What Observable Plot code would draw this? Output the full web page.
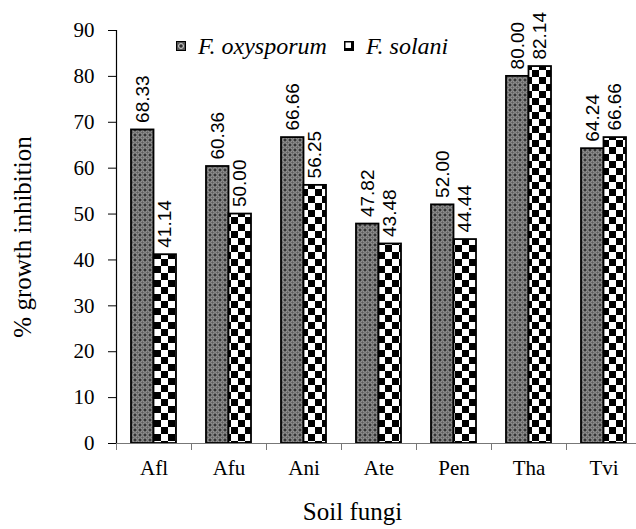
<!DOCTYPE html>
<html><head><meta charset="utf-8">
<script src="https://cdn.jsdelivr.net/npm/d3@7"></script>
<script src="https://cdn.jsdelivr.net/npm/@observablehq/plot@0.6"></script>
<style>
body{margin:0;background:#fff;}
#wrap{position:relative;width:636px;height:529px;overflow:hidden;}
.lg{position:absolute;font:italic 24px "Liberation Serif",serif;white-space:nowrap;line-height:1;}
.sw{position:absolute;}
</style></head><body><div id="wrap"></div>
<script>
const fungi = ["Afl","Afu","Ani","Ate","Pen","Tha","Tvi"];
const series = ["F. oxysporum","F. solani"];
const oxysporum = [68.33,60.36,66.66,47.82,52.00,80.00,64.24];
const solani = [41.14,50.00,56.25,43.48,44.44,82.14,66.66];
const yTicks = [0,10,20,30,40,50,60,70,80,90];

const rows = fungi.flatMap((f,i)=>[
  {fungus:f,i,s:0,series:series[0],value:oxysporum[i]},
  {fungus:f,i,s:1,series:series[1],value:solani[i]}
]);
const boundaries = d3.range(fungi.length+1);
const centers = fungi.map((f,i)=>i+0.5);
const serif = "Liberation Serif";

const plot = Plot.plot({
  width:636, height:529,
  marginLeft:116, marginTop:30, marginBottom:86, marginRight:0,
  style:{fontFamily:serif, fontSize:"21px", background:"white", color:"black"},
  x:{domain:[0,fungi.length], range:[116,641]},
  y:{domain:[0,90], range:[443,30]},
  marks:[
    Plot.rectY(rows.filter(d=>d.s===0),{x1:d=>d.i+0.2,x2:d=>d.i+0.5,y:"value",fill:"url(#pOxy)",stroke:"black",strokeWidth:1.8}),
    Plot.rectY(rows.filter(d=>d.s===1),{x1:d=>d.i+0.5,x2:d=>d.i+0.8,y:"value",fill:"url(#pSol)",stroke:"black",strokeWidth:1.8}),
    Plot.text(rows,{x:d=>d.i+0.35+0.3*d.s,y:"value",text:d=>d.value.toFixed(2),rotate:-90,textAnchor:"start",dy:-7,fontFamily:"Liberation Sans",fontSize:19}),
    Plot.ruleY([0],{stroke:"#777",strokeWidth:1.2}),
    Plot.ruleX([0],{stroke:"black",strokeWidth:1.2}),
    Plot.axisY({ticks:yTicks,tickSize:8,tickPadding:14,label:null,stroke:"black",fontFamily:serif,fontSize:21}),
    Plot.axisX({ticks:boundaries,tickFormat:()=>"",tickSize:7,stroke:"#777",label:null}),
    Plot.axisX({ticks:centers,tickFormat:d=>fungi[Math.floor(d)],tickSize:0,tickPadding:17,label:null,fontFamily:serif,fontSize:21}),
    Plot.text(["% growth inhibition"],{frameAnchor:"left",textAnchor:"middle",rotate:-90,dx:-94,fontFamily:serif,fontSize:25}),
    Plot.text(["Soil fungi"],{frameAnchor:"bottom",lineAnchor:"middle",dy:68,dx:-24,fontFamily:serif,fontSize:25})
  ]
});

const svg = d3.select(plot);
svg.selectAll("text").filter(function(){ return /^\d+$/.test(this.textContent); })
  .style("font-family", '"Liberation Serif", serif').style("font-variant", "normal");
const defs = svg.insert("defs",":first-child");
const p1 = defs.append("pattern").attr("id","pOxy").attr("width",5).attr("height",5).attr("patternUnits","userSpaceOnUse");
p1.append("rect").attr("width",5).attr("height",5).attr("fill","#5e5e5e");
p1.append("circle").attr("cx",2.5).attr("cy",2.5).attr("r",1.7).attr("fill","none").attr("stroke","#b8b8b8").attr("stroke-width",0.7);
p1.append("circle").attr("cx",0).attr("cy",0).attr("r",0.8).attr("fill","#000");
p1.append("circle").attr("cx",5).attr("cy",0).attr("r",0.8).attr("fill","#000");
p1.append("circle").attr("cx",0).attr("cy",5).attr("r",0.8).attr("fill","#000");
p1.append("circle").attr("cx",5).attr("cy",5).attr("r",0.8).attr("fill","#000");
const p2 = defs.append("pattern").attr("id","pSol").attr("width",14).attr("height",14).attr("patternUnits","userSpaceOnUse");
p2.append("rect").attr("width",14).attr("height",14).attr("fill","white");
p2.append("rect").attr("width",7).attr("height",7).attr("fill","black");
p2.append("rect").attr("x",7).attr("y",7).attr("width",7).attr("height",7).attr("fill","black");

const wrap = document.getElementById("wrap");
wrap.appendChild(plot);

// legend
function sw(left, kind){
  const s = document.createElementNS("http://www.w3.org/2000/svg","svg");
  s.setAttribute("width",10); s.setAttribute("height",10);
  s.setAttribute("class","sw");
  s.style.left = left+"px"; s.style.top = "41px";
  if(kind===0){
    s.innerHTML = '<rect x="0.5" y="0.5" width="9" height="9" fill="#555" stroke="#000"/><circle cx="5" cy="5" r="2.5" fill="none" stroke="#ccc" stroke-width="1"/><circle cx="5" cy="5" r="0.8" fill="#000"/>';
  } else {
    s.innerHTML = '<rect x="0" y="0" width="10" height="10" fill="#000"/><rect x="1.5" y="1.5" width="5.5" height="5.5" fill="#fff"/>';
  }
  wrap.appendChild(s);
}
function lbl(left, text){
  const d = document.createElement("div");
  d.className = "lg"; d.textContent = text;
  d.style.left = left+"px"; d.style.top = "34px";
  wrap.appendChild(d);
}
sw(176,0); lbl(198,series[0]);
sw(344,1); lbl(366,series[1]);
</script></body></html>
